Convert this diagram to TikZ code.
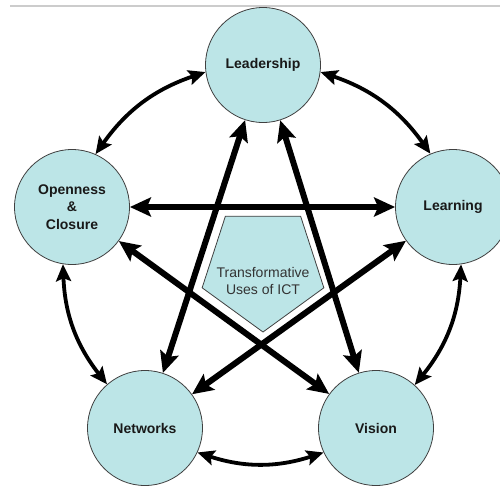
\documentclass[tikz,border=0pt]{standalone}
\usepackage{fontspec}
\setmainfont{Liberation Sans}
\usetikzlibrary{arrows.meta,shapes.geometric}
\definecolor{cellfill}{RGB}{188,229,231}
\definecolor{edgegray}{RGB}{64,64,64}
\definecolor{rulegray}{RGB}{204,204,204}
\begin{document}
\begin{tikzpicture}[x=1pt,y=1pt,
  cell/.style={circle, fill=cellfill, draw=edgegray, line width=0.8pt, minimum size=115pt, inner sep=0pt,
    font=\fontsize{14}{17.5}\selectfont\bfseries, align=center, text=black!90},
  pent/.style={regular polygon, regular polygon sides=5, shape border rotate=180, minimum size=128pt,
    inner sep=0pt, fill=cellfill, draw=edgegray, line width=0.8pt},
  penttext/.style={font=\fontsize{14}{17}\selectfont, align=center, text=black!80, inner sep=0pt},
  star/.style={line width=6pt, {Stealth[length=21pt,width=19pt,inset=4pt]}-{Stealth[length=21pt,width=19pt,inset=4pt]}},
  rim/.style={line width=3.8pt, {Stealth[length=17pt,width=15pt,inset=3pt]}-{Stealth[length=17pt,width=15pt,inset=3pt]}}
]
\useasboundingbox (0,0) rectangle (500,-485);
\clip (0,0) rectangle (500,-485);
\coordinate (ruleA) at (10,-6);
\coordinate (ruleB) at (500,-6);
\draw[rulegray, line width=2pt] (ruleA) -- (ruleB);

\node[cell] (L)  at (263,-65)  {Leadership};
\node[cell] (O)  at (72,-207)  {Openness\\\&\\Closure};
\node[cell] (Lr) at (453,-207) {Learning};
\node[cell] (N)  at (145,-428) {Networks};
\node[cell] (V)  at (376,-428) {Vision};

\node[pent] (T) at (263,-268) {};
\node[penttext] (Tt) at (263,-281) {Transformative\\Uses of ICT};

% pentagram arrows
\draw[star] (L) -- (N);
\draw[star] (L) -- (V);
\draw[star] (O) -- (Lr);
\draw[star] (O) -- (V);
\draw[star] (Lr) -- (N);

% outer rim arrows
\draw[rim] (L.187) to[bend right=18] (O.66.6);
\draw[rim] (O.261.5) to[bend right=18] (N.131.6);
\draw[rim] (N.-25) to[bend right=18] (V.205);
\draw[rim] (V.48.4) to[bend right=18] (Lr.278.5);
\draw[rim] (Lr.113.4) to[bend right=18] (L.353);
\end{tikzpicture}
\end{document}
